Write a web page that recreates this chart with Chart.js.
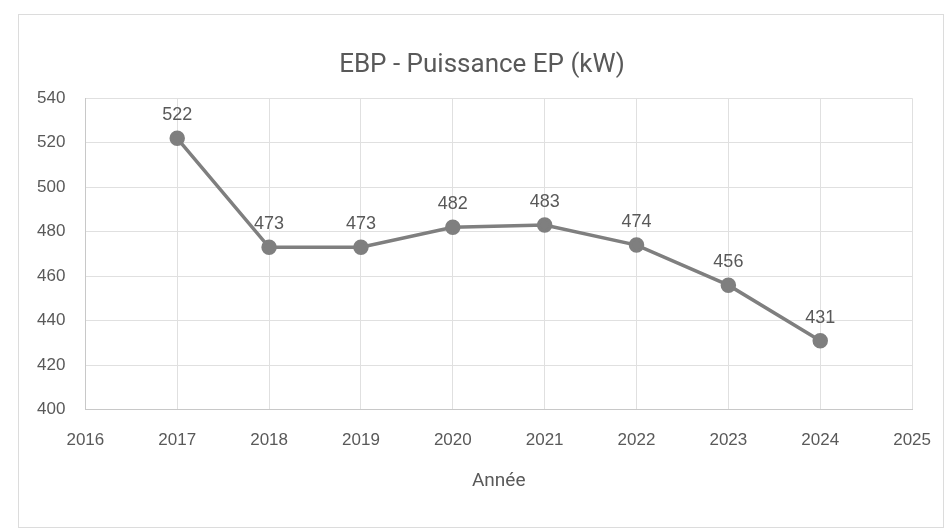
<!DOCTYPE html>
<html>
<head>
<meta charset="utf-8">
<script src="https://cdn.jsdelivr.net/npm/chart.js@4"></script>
<style>
    body { margin: 0; background: #fff; }
    #box {
        position: absolute; left: 18px; top: 14px;
        width: 926px; height: 514px;
        border: 1px solid #dcdcdc; box-sizing: border-box;
    }
    #wrap { position: absolute; left: 0; top: 0; width: 951px; height: 531px; }
</style>
</head>
<body>
<div id="box"></div>
<div id="wrap"><canvas id="myChart" width="951" height="531"></canvas></div>
<script>
const years = [2017, 2018, 2019, 2020, 2021, 2022, 2023, 2024];
const puissance = [522, 473, 473, 482, 483, 474, 456, 431];
const xMin = 2016, xMax = 2025;
const yMin = 400, yMax = 540, yStep = 20;
const titre = 'EBP - Puissance EP (kW)';

const grey = '#7f7f7f';
const textGrey = '#595959';

// labels au-dessus des points + titre centré sur le cadre
const pointLabels = {
    id: 'pointLabels',
    afterDatasetsDraw(chart) {
        const ctx = chart.ctx;
        const meta = chart.getDatasetMeta(0);
        ctx.save();
        ctx.font = '18px "Liberation Sans", Arial, sans-serif';
        ctx.fillStyle = textGrey;
        ctx.textAlign = 'center';
        ctx.textBaseline = 'bottom';
        meta.data.forEach((pt, i) => {
            ctx.fillText(String(puissance[i]), pt.x, pt.y - 14);
        });
        const tb = chart.titleBlock;
        ctx.font = '26px Roboto, sans-serif';
        ctx.textBaseline = 'middle';
        ctx.fillText(titre, 482, tb.top + 40 + 15.6);
        ctx.restore();
    }
};

const data = {
    datasets: [{
        label: 'Puissance EP',
        data: years.map((y, i) => ({ x: y, y: puissance[i] })),
        borderColor: grey,
        backgroundColor: grey,
        borderWidth: 3.5,
        pointRadius: 6,
        pointHoverRadius: 6,
        tension: 0
    }]
};

const config = {
    type: 'line',
    data,
    options: {
        responsive: false,
        animation: false,
        layout: {
            padding: { left: 17, right: 34, top: 10, bottom: 34 }
        },
        plugins: {
            legend: { display: false },
            tooltip: { enabled: false },
            title: {
                display: true,
                text: titre,
                color: 'rgba(0,0,0,0)',
                font: { family: 'Roboto, sans-serif', size: 26, weight: 'normal' },
                padding: { top: 40, bottom: 17 }
            }
        },
        scales: {
            x: {
                type: 'linear',
                min: xMin,
                max: xMax,
                ticks: {
                    stepSize: 1,
                    color: textGrey,
                    font: { family: '"Liberation Sans", Arial, sans-serif', size: 17 },
                    padding: 20,
                    callback: v => String(v)
                },
                grid: { color: '#e0e0e0', drawTicks: false },
                border: { color: '#c8c8c8' },
                title: {
                    display: true,
                    text: 'Année',
                    color: textGrey,
                    font: { family: 'Roboto, sans-serif', size: 19 },
                    padding: { top: 0 }
                }
            },
            y: {
                min: yMin,
                max: yMax,
                ticks: {
                    stepSize: yStep,
                    color: textGrey,
                    font: { family: '"Liberation Sans", Arial, sans-serif', size: 17 },
                    padding: 20
                },
                grid: { color: '#e0e0e0', drawTicks: false },
                border: { color: '#c8c8c8' }
            }
        }
    },
    plugins: [pointLabels]
};

var myChart = new Chart(document.getElementById('myChart'), config);
</script>
</body>
</html>
